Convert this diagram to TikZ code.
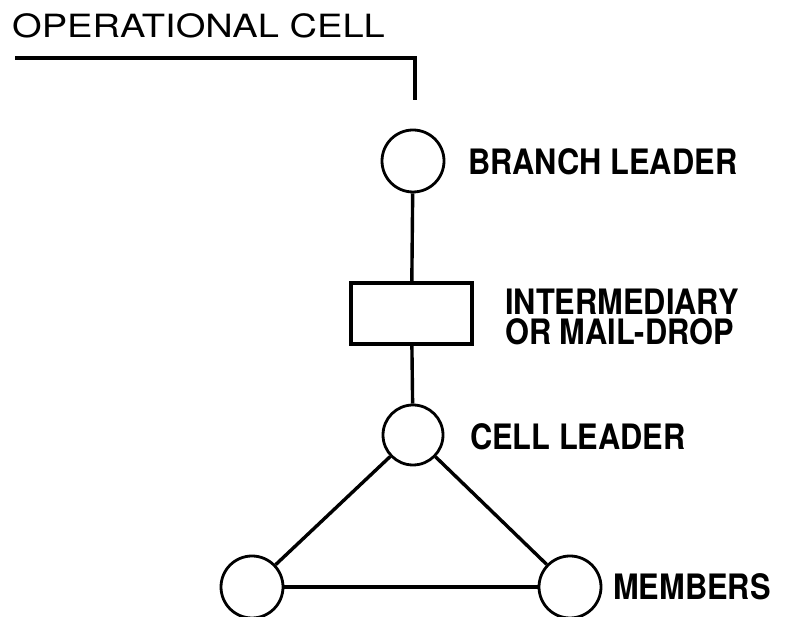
\documentclass[tikz,border=0pt]{standalone}
\usepackage{fontspec}
\setmainfont{TeX Gyre Heros}
\newfontfamily\titlefont[FakeStretch=1.19]{TeX Gyre Heros}
\newfontfamily\labelfont[FakeStretch=0.88]{TeX Gyre Heros}
\begin{document}
\begin{tikzpicture}[x=1pt,y=1pt,
  person/.style={circle,draw,line width=2.8pt,minimum size=62pt,inner sep=0pt},
  dropbox/.style={rectangle,draw,line width=3.2pt,minimum width=121pt,minimum height=61pt,inner sep=0pt},
  lab/.style={anchor=base west,inner sep=0pt,text height=25pt,text depth=0pt,font=\labelfont\bfseries\fontsize{35}{30}\selectfont},
  link/.style={line width=3.4pt}]
\useasboundingbox (0,0) rectangle (787,617);
\node[anchor=base west,inner sep=0pt,font=\titlefont\fontsize{32}{34}\selectfont] (title) at (12,579) {OPERATIONAL CELL};
\coordinate (t0) at (15,559);
\coordinate (t1) at (415,559);
\coordinate (t2) at (415,517);
\draw[line width=3.6pt] (t0) -- (t1) -- (t2);
\node[person] (branch) at (413,456) {};
\node[dropbox] (drop) at (411.5,303.5) {};
\node[person,minimum size=60pt] (cell) at (413,182) {};
\node[person] (memL) at (252,30) {};
\node[person] (memR) at (570,30) {};
\draw[link] (branch) -- (drop);
\draw[link] (drop) -- (cell);
\draw[link] (cell) -- (memL);
\draw[link] (cell) -- (memR);
\draw[link] (memL) -- (memR);
\node[lab] (lbranch) at (468,442) {BRANCH LEADER};
\node[lab] (linter) at (505,302) {INTERMEDIARY};
\node[lab] (lmail) at (505,272) {OR MAIL-DROP};
\node[lab] (lcell) at (470,167) {CELL LEADER};
\node[lab] (lmem) at (613,17) {MEMBERS};
\end{tikzpicture}
\end{document}
